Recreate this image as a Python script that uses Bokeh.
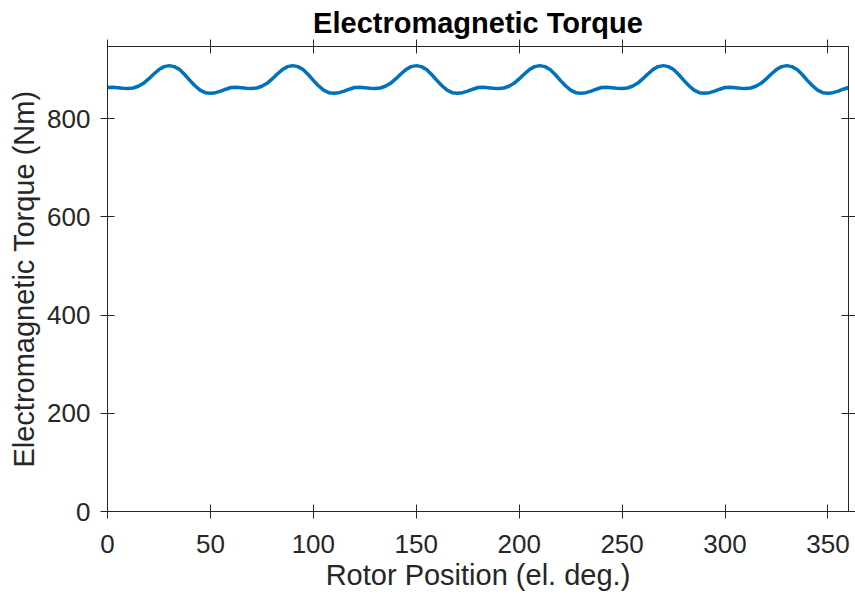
from bokeh.plotting import figure
from bokeh.models import Range1d, FixedTicker, LinearAxis
from bokeh.embed import file_html
from bokeh.resources import INLINE

# Data (rotor position in el. deg., torque in Nm)
rotor_position = [i * 2.5 for i in range(145)]
torque = [
    863.5, 864, 863, 862, 861.5, 862.5, 866, 872, 881, 891, 900, 906,
    908, 906, 900, 890, 878, 867, 858, 853, 852, 853, 856, 860,
    863.5, 864, 863, 862, 861.5, 862.5, 866, 872, 881, 891, 900, 906,
    908, 906, 900, 890, 878, 867, 858, 853, 852, 853, 856, 860,
    863.5, 864, 863, 862, 861.5, 862.5, 866, 872, 881, 891, 900, 906,
    908, 906, 900, 890, 878, 867, 858, 853, 852, 853, 856, 860,
    863.5, 864, 863, 862, 861.5, 862.5, 866, 872, 881, 891, 900, 906,
    908, 906, 900, 890, 878, 867, 858, 853, 852, 853, 856, 860,
    863.5, 864, 863, 862, 861.5, 862.5, 866, 872, 881, 891, 900, 906,
    908, 906, 900, 890, 878, 867, 858, 853, 852, 853, 856, 860,
    863.5, 864, 863, 862, 861.5, 862.5, 866, 872, 881, 891, 900, 906,
    908, 906, 900, 890, 878, 867, 858, 853, 852, 853, 856, 860,
    863.5,
]
x_ticks = [0, 50, 100, 150, 200, 250, 300, 350]
y_ticks = [0, 200, 400, 600, 800]

FONT = "Liberation Sans"
AX = "#262626"

p = figure(width=855, height=601, output_backend="svg", toolbar_location=None,
           x_range=Range1d(0, 360), y_range=Range1d(0, 947),
           min_border_left=107, min_border_right=6,
           min_border_top=46, min_border_bottom=90)

p.title.text = "Electromagnetic Torque"
p.title.align = "center"
p.title.text_font = FONT
p.title.text_font_size = "29px"
p.title.text_font_style = "bold"
p.title.text_color = "#000000"
p.title.offset = 0
p.title.standoff = 2

p.grid.visible = False
p.outline_line_color = AX
p.background_fill_color = "white"
p.border_fill_color = "white"

p.line(rotor_position, torque, line_color="#0072BD", line_width=3.5)

for ax, ticks, label in ((p.xaxis[0], x_ticks, "Rotor Position (el. deg.)"),
                         (p.yaxis[0], y_ticks, "Electromagnetic Torque (Nm)")):
    ax.ticker = FixedTicker(ticks=ticks)
    ax.axis_label = label
    ax.axis_label_text_font = FONT
    ax.axis_label_text_font_size = "29px"
    ax.axis_label_text_font_style = "normal"
    ax.axis_label_text_color = AX
    ax.major_label_text_font = FONT
    ax.major_label_text_font_size = "26px"
    ax.major_label_text_color = AX
    ax.axis_line_color = AX
    ax.major_tick_line_color = AX
    ax.major_tick_in = 7
    ax.major_tick_out = 7
    ax.minor_tick_line_color = None

p.xaxis[0].major_label_standoff = 16
p.xaxis[0].axis_label_standoff = 3
p.yaxis[0].major_label_standoff = 10
p.yaxis[0].axis_label_standoff = 4

for loc, ticks in (("above", x_ticks), ("right", y_ticks)):
    a = LinearAxis(ticker=FixedTicker(ticks=ticks))
    a.major_label_text_font_size = "1px"
    a.major_label_text_alpha = 0
    a.major_label_standoff = 0
    a.axis_line_color = AX
    a.major_tick_line_color = AX
    a.major_tick_in = 7
    a.major_tick_out = 7
    a.minor_tick_line_color = None
    p.add_layout(a, loc)

open("out.html", "w").write(file_html(p, INLINE))
